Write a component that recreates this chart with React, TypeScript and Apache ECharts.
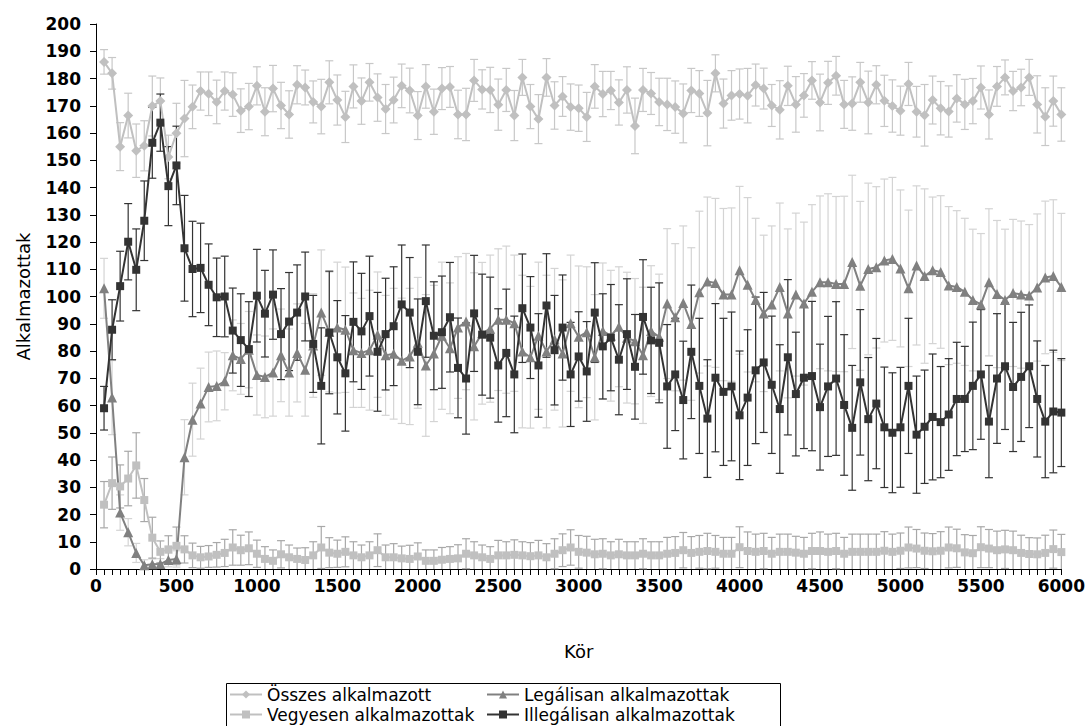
import React, { useEffect, useRef } from "react";
import * as echarts from "echarts";

const ROUNDS = [
  50, 100, 150, 200, 250, 300, 350, 400, 450, 500,
  550, 600, 650, 700, 750, 800, 850, 900, 950, 1000,
  1050, 1100, 1150, 1200, 1250, 1300, 1350, 1400, 1450, 1500,
  1550, 1600, 1650, 1700, 1750, 1800, 1850, 1900, 1950, 2000,
  2050, 2100, 2150, 2200, 2250, 2300, 2350, 2400, 2450, 2500,
  2550, 2600, 2650, 2700, 2750, 2800, 2850, 2900, 2950, 3000,
  3050, 3100, 3150, 3200, 3250, 3300, 3350, 3400, 3450, 3500,
  3550, 3600, 3650, 3700, 3750, 3800, 3850, 3900, 3950, 4000,
  4050, 4100, 4150, 4200, 4250, 4300, 4350, 4400, 4450, 4500,
  4550, 4600, 4650, 4700, 4750, 4800, 4850, 4900, 4950, 5000,
  5050, 5100, 5150, 5200, 5250, 5300, 5350, 5400, 5450, 5500,
  5550, 5600, 5650, 5700, 5750, 5800, 5850, 5900, 5950, 6000,
];

const OSSZES = [
  186.1, 181.9, 155.0, 166.4, 153.5, 155.3, 169.9, 171.7, 151.2, 159.9,
  165.3, 169.6, 175.4, 174.4, 171.4, 175.4, 174.1, 168.2, 169.7, 177.3,
  167.8, 176.3, 170.1, 166.8, 177.7, 176.7, 171.4, 169.7, 178.6, 172.1,
  165.9, 177.1, 171.7, 178.6, 173.0, 168.8, 172.1, 177.3, 175.6, 166.4,
  177.1, 167.8, 176.3, 176.9, 166.8, 166.8, 179.3, 176.0, 175.8, 170.4,
  175.8, 166.4, 180.4, 169.7, 165.1, 180.4, 170.1, 173.4, 169.5, 169.1,
  165.9, 177.1, 174.3, 175.6, 171.2, 175.8, 162.6, 175.8, 174.5, 171.4,
  170.5, 169.5, 167.2, 175.6, 174.5, 167.3, 181.9, 170.8, 173.8, 174.3,
  173.7, 177.6, 176.3, 170.1, 168.5, 177.3, 170.5, 173.8, 179.3, 171.2,
  178.4, 181.0, 170.5, 170.8, 178.6, 171.2, 177.7, 171.8, 169.9, 168.2,
  178.0, 167.8, 166.5, 172.1, 169.1, 167.9, 172.7, 170.5, 171.7, 176.7,
  166.8, 177.1, 180.4, 175.4, 176.7, 180.4, 170.5, 166.0, 171.7, 166.8,
];
const OSSZES_ERR = [
  4.5, 5.8, 8.8, 8.2, 9.8, 9.2, 11, 8.5, 8, 11,
  14, 8, 7, 8, 8, 7, 8, 8, 8.5, 7,
  8.8, 8.5, 8.5, 8.7, 7, 6.4, 7.7, 10, 7.9, 9.2,
  9.4, 7.9, 8.5, 6.9, 8.7, 9, 8.4, 8, 8.2, 8.8,
  8, 8.3, 7.7, 7.5, 8.9, 9.6, 7.7, 7.2, 8.3, 9.4,
  7.9, 9.2, 6.6, 8.1, 9, 6.9, 8.7, 7.3, 8.5, 8.5,
  9, 8, 8.3, 7, 8.3, 8.5, 10.2, 7.9, 7.7, 8.7,
  9.6, 9.6, 10.8, 8.1, 8.4, 12, 6.8, 9, 9.1, 9.2,
  10, 7.7, 7.5, 7.7, 10.7, 7.2, 10.2, 8, 6.9, 10.4,
  7.9, 7.1, 8.8, 9.8, 7.3, 11.5, 7, 9.4, 9.6, 9,
  7.9, 9.3, 11.3, 8.8, 9.8, 9.4, 8.7, 9.2, 8.3, 7.9,
  9, 7.3, 6.4, 7.2, 6.7, 6.6, 10.5, 10.6, 9.2, 9.8,
];

const LEGALIS = [
  103.0, 62.9, 20.7, 13.5, 5.9, 1.4, 1.7, 1.8, 3.3, 3.7,
  41.0, 54.8, 60.7, 66.8, 67.2, 68.9, 78.4, 77.1, 80.5, 71.2,
  70.5, 72.1, 78.4, 72.1, 79.3, 73.1, 82.0, 94.1, 87.0, 88.6,
  87.8, 80.3, 79.3, 80.3, 86.0, 78.4, 79.0, 76.4, 78.0, 83.0,
  74.7, 79.1, 85.6, 81.0, 88.6, 90.8, 81.7, 86.5, 88.2, 91.5,
  91.5, 90.2, 79.8, 77.7, 85.6, 79.8, 84.3, 79.1, 90.2, 85.2,
  86.9, 77.7, 87.3, 85.6, 88.9, 84.9, 83.6, 78.4, 87.3, 85.2,
  97.4, 92.4, 97.6, 89.9, 101.6, 105.5, 105.0, 100.7, 100.7, 109.6,
  104.3, 98.7, 93.8, 97.1, 103.5, 93.8, 100.7, 97.4, 101.7, 105.2,
  105.2, 104.6, 104.6, 112.7, 103.9, 110.1, 110.7, 113.2, 113.8, 110.3,
  103.0, 111.4, 107.5, 109.6, 109.0, 104.0, 103.5, 101.7, 98.7, 97.1,
  105.2, 100.9, 98.7, 101.3, 100.7, 100.4, 103.3, 107.0, 107.5, 103.5,
];
const LEGALIS_ERR = [
  11, 13.6, 6.5, 5, 3.5, 2, 2, 2, 2.5, 3,
  13.8, 13.4, 13, 12.8, 12.8, 10.5, 13, 13, 14, 14.7,
  15, 16, 17, 16, 18, 17, 19, 23, 22, 24,
  23, 21, 20, 22, 23, 22, 24, 23, 25, 24,
  26, 25, 27, 24, 26, 25, 27, 26, 27, 26,
  27, 25, 28, 26, 27, 28, 26, 27, 25, 26,
  24, 23, 25, 24, 22, 24, 23, 25, 24, 23,
  27.5, 27, 28.3, 28, 29.7, 31, 31, 31.6, 31.8, 30.8,
  32, 30, 28.7, 28.8, 30.8, 31, 29.9, 29.9, 32, 31.7,
  32.5, 32.1, 32.2, 31.8, 31, 31.5, 29.6, 29.9, 29.9, 28.8,
  28.7, 29.2, 32, 26.9, 28, 29, 28, 27, 26, 26,
  27, 27, 26, 27, 27, 26, 27, 28, 28, 27,
];

const VEGYES = [
  23.6, 31.5, 30.3, 33.2, 38.0, 25.3, 11.5, 6.3, 7.2, 8.5,
  7.2, 5.0, 4.3, 4.6, 5.2, 5.9, 7.9, 6.9, 7.6, 5.6,
  3.7, 3.0, 5.4, 4.3, 3.7, 3.3, 5.0, 7.9, 6.0, 5.6,
  6.3, 5.0, 4.3, 5.0, 6.9, 4.3, 4.3, 3.9, 3.7, 4.6,
  3.0, 3.0, 3.4, 3.7, 3.9, 5.6, 5.0, 4.3, 3.7, 5.0,
  5.0, 5.2, 5.0, 4.7, 5.0, 4.3, 5.6, 6.9, 7.9, 6.3,
  6.0, 5.4, 5.6, 5.0, 5.4, 5.0, 5.0, 5.6, 5.0, 5.0,
  5.6, 5.9, 6.9, 5.9, 6.3, 6.6, 6.3, 5.6, 5.6, 8.0,
  6.6, 6.3, 6.6, 5.6, 6.3, 6.3, 6.0, 5.6, 6.6, 6.6,
  6.3, 6.6, 5.6, 6.3, 6.3, 6.3, 6.3, 6.7, 6.3, 6.7,
  7.9, 7.5, 6.7, 6.5, 6.7, 7.9, 7.6, 6.1, 5.8, 8.0,
  7.5, 6.9, 7.2, 6.9, 5.9, 5.5, 5.4, 5.9, 7.3, 6.2,
];
const VEGYES_ERR = [
  8.5, 9.6, 7.9, 10, 12, 7.9, 7.5, 4, 5, 6.9,
  5, 4.5, 4, 4, 4.5, 5, 6.5, 5.5, 6, 5,
  4.5, 4, 5, 4.5, 4, 4.5, 5, 7.7, 5.5, 5,
  5.5, 5, 4.5, 5, 6, 4.5, 5, 4.5, 5, 5,
  4, 4, 4.5, 4.5, 5, 5.5, 5, 4.5, 4.5, 5.5,
  5, 5.5, 5, 5, 5.5, 5, 5.5, 6, 6.5, 6,
  6, 5.5, 5.5, 5, 5.5, 5, 5, 5.5, 5, 5,
  6, 6, 6.5, 6, 6, 6.5, 6, 6, 6, 7.5,
  7, 6.5, 6.5, 6, 6.5, 6.5, 6, 6, 6.5, 7,
  6.5, 6.5, 6, 6.5, 6.5, 6.5, 6.5, 7, 6.5, 6.5,
  7.5, 7, 6.5, 6.5, 7, 7.5, 7, 6.5, 6.5, 7.5,
  7, 7, 7, 7, 6.5, 6, 6, 6.5, 7, 6.5,
];

const ILLEGALIS = [
  59.0, 87.8, 103.8, 120.1, 109.8, 127.8, 156.4, 163.8, 140.5, 148.1,
  117.7, 110.1, 110.5, 104.3, 99.7, 100.0, 87.5, 84.0, 80.7, 100.3,
  93.7, 100.7, 86.2, 90.8, 94.1, 100.0, 82.6, 67.2, 86.8, 77.7,
  71.8, 90.7, 87.2, 92.8, 79.7, 86.2, 89.1, 97.1, 94.1, 79.7,
  98.3, 85.6, 86.9, 92.4, 73.8, 69.9, 93.8, 86.0, 84.9, 74.7,
  79.3, 71.4, 95.7, 88.6, 74.7, 96.7, 80.3, 88.6, 71.4, 78.0,
  72.5, 94.1, 81.7, 84.9, 76.8, 86.2, 74.2, 92.5, 83.9, 83.0,
  67.0, 71.4, 62.0, 79.7, 67.2, 55.2, 70.2, 65.0, 67.0, 56.4,
  62.9, 72.9, 75.8, 67.6, 58.7, 77.7, 64.2, 70.2, 70.8, 59.4,
  67.0, 69.9, 60.2, 51.8, 68.5, 55.0, 60.7, 52.0, 50.0, 52.0,
  67.2, 49.3, 52.2, 55.8, 53.9, 56.7, 62.4, 62.4, 67.2, 71.4,
  54.1, 69.9, 74.4, 66.8, 70.5, 74.4, 62.4, 54.1, 57.8, 57.4,
];
const ILLEGALIS_ERR = [
  8, 11, 12.8, 14, 15, 14.6, 13, 10.5, 14.5, 14.4,
  19.4, 17.5, 16.4, 15, 14.4, 14.8, 15.6, 17, 17.4, 17,
  15.9, 16.4, 16.7, 18, 17.5, 16.3, 17.8, 21.3, 22.5, 20.8,
  21.2, 22, 21.3, 22, 21.8, 20.5, 21.8, 21.8, 20.2, 19.4,
  20.6, 19.8, 20.6, 20.1, 18.3, 20.4, 21.3, 22.2, 22.2, 20.8,
  23.4, 21.4, 19.9, 18.7, 19, 19, 20.1, 19.3, 19.1, 16.4,
  18.3, 18.3, 19.3, 19.5, 20.2, 20.3, 19.2, 21, 19.5, 22,
  22.7, 20.6, 21.6, 24.5, 24.8, 21.6, 27.2, 27, 27.3, 23.6,
  24.9, 26.9, 25.7, 25.2, 23.6, 28.5, 22.7, 26, 27.4, 23.1,
  25.7, 28.2, 25.8, 22.9, 26.7, 22.6, 23.9, 22.1, 22, 22,
  24.8, 21.5, 20.8, 23.1, 20.4, 20.5, 20.8, 19.3, 23.4, 23.8,
  20.6, 23.8, 23.2, 23.7, 23.7, 22.5, 21.3, 20.6, 22.5, 19.8,
];

const NAMES = [
  "Összes alkalmazott",
  "Legálisan alkalmazottak",
  "Vegyesen alkalmazottak",
  "Illegálisan alkalmazottak",
];

const FONT = "DejaVu Sans";

export default function App() {
  const ref = useRef<HTMLDivElement | null>(null);

  useEffect(() => {
    if (!ref.current) return;
    const chart = echarts.init(ref.current, undefined, { renderer: "svg" });

    const pts = (vals: number[]) => ROUNDS.map((x, i) => [x, vals[i]]);
    const errData = (vals: number[], errs: number[]) =>
      ROUNDS.map((x, i) => [x, Math.max(0, vals[i] - errs[i]), Math.min(200, vals[i] + errs[i])]);

    const errSeries = (name: string, vals: number[], errs: number[], color: string, z: number) => ({
      type: "custom",
      name: name + " hiba",
      z,
      silent: true,
      encode: { x: 0, y: [1, 2] },
      data: errData(vals, errs),
      renderItem: (params: any, api: any) => {
        const x = api.value(0);
        const lo = api.value(1);
        const hi = api.value(2);
        const pHi = api.coord([x, hi]);
        const pLo = api.coord([x, lo]);
        const hw = 4;
        const style = { stroke: color, lineWidth: 1.2, fill: "none" };
        const children: any[] = [
          { type: "line", shape: { x1: pHi[0], y1: pHi[1], x2: pLo[0], y2: pLo[1] }, style },
          { type: "line", shape: { x1: pHi[0] - hw, y1: pHi[1], x2: pHi[0] + hw, y2: pHi[1] }, style },
        ];
        if (lo > 0) {
          children.push({ type: "line", shape: { x1: pLo[0] - hw, y1: pLo[1], x2: pLo[0] + hw, y2: pLo[1] }, style });
        }
        return { type: "group", children };
      },
    });

    const lineSeries = (name: string, vals: number[], color: string, symbol: string, size: number, z: number) => ({
      type: "line",
      name,
      z,
      data: pts(vals),
      symbol,
      symbolSize: size,
      showAllSymbol: true,
      lineStyle: { color, width: 2 },
      itemStyle: { color, borderWidth: 0 },
    });

    const legendItem = (name: string, left: number, top: number) => ({
      left,
      top,
      data: [name],
      itemWidth: 32,
      itemHeight: 10,
      padding: 0,
      textStyle: { fontFamily: FONT, fontSize: 17, lineHeight: 17, color: "#000" },
    });

    const option: any = {
      animation: false,
      backgroundColor: "#ffffff",
      grid: { left: 96, right: 26, top: 24, bottom: 157 },
      xAxis: {
        type: "value",
        min: 0,
        max: 6000,
        interval: 500,
        name: "Kör",
        nameLocation: "middle",
        nameGap: 73,
        nameTextStyle: { fontFamily: FONT, fontSize: 18, color: "#000" },
        axisLine: { show: true, lineStyle: { color: "#000", width: 1 } },
        axisTick: { show: true, length: 6, lineStyle: { color: "#000" } },
        minorTick: { show: true, splitNumber: 10, length: 6, lineStyle: { color: "#000" } },
        axisLabel: {
          fontFamily: FONT,
          fontSize: 17,
          fontWeight: "bold",
          color: "#000",
          margin: 8,
          formatter: (v: number) => String(v),
        },
        splitLine: { show: false },
      },
      yAxis: {
        type: "value",
        min: 0,
        max: 200,
        interval: 10,
        name: "Alkalmazottak",
        nameLocation: "middle",
        nameGap: 64,
        nameTextStyle: { fontFamily: FONT, fontSize: 18, color: "#000" },
        axisLine: { show: true, lineStyle: { color: "#000", width: 1 } },
        axisTick: { show: true, length: 6, lineStyle: { color: "#000" } },
        axisLabel: {
          fontFamily: FONT,
          fontSize: 17,
          fontWeight: "bold",
          color: "#000",
          margin: 15,
          formatter: (v: number) => String(v),
        },
        splitLine: { show: false },
      },
      legend: [
        legendItem(NAMES[0], 229, 686),
        legendItem(NAMES[1], 486, 686),
        legendItem(NAMES[2], 229, 706),
        legendItem(NAMES[3], 486, 706),
      ],
      graphic: [
        {
          type: "rect",
          shape: { x: 226.5, y: 683.5, width: 554, height: 60 },
          style: { fill: "none", stroke: "#000", lineWidth: 1 },
          silent: true,
        },
      ],
      series: [
        errSeries(NAMES[0], OSSZES, OSSZES_ERR, "#c8c8c8", 1),
        errSeries(NAMES[1], LEGALIS, LEGALIS_ERR, "#d4d4d4", 1),
        errSeries(NAMES[2], VEGYES, VEGYES_ERR, "#a8a8a8", 1),
        errSeries(NAMES[3], ILLEGALIS, ILLEGALIS_ERR, "#333333", 1),
        lineSeries(NAMES[0], OSSZES, "#c0c0c0", "diamond", 10, 2),
        lineSeries(NAMES[1], LEGALIS, "#808080", "triangle", 10, 3),
        lineSeries(NAMES[2], VEGYES, "#c0c0c0", "rect", 8, 4),
        lineSeries(NAMES[3], ILLEGALIS, "#333333", "rect", 8, 5),
      ],
    };

    chart.setOption(option);
    return () => chart.dispose();
  }, []);

  return (
    <div
      ref={ref}
      style={{ position: "fixed", left: 0, top: 0, width: 1088, height: 726, background: "#fff" }}
    />
  );
}
